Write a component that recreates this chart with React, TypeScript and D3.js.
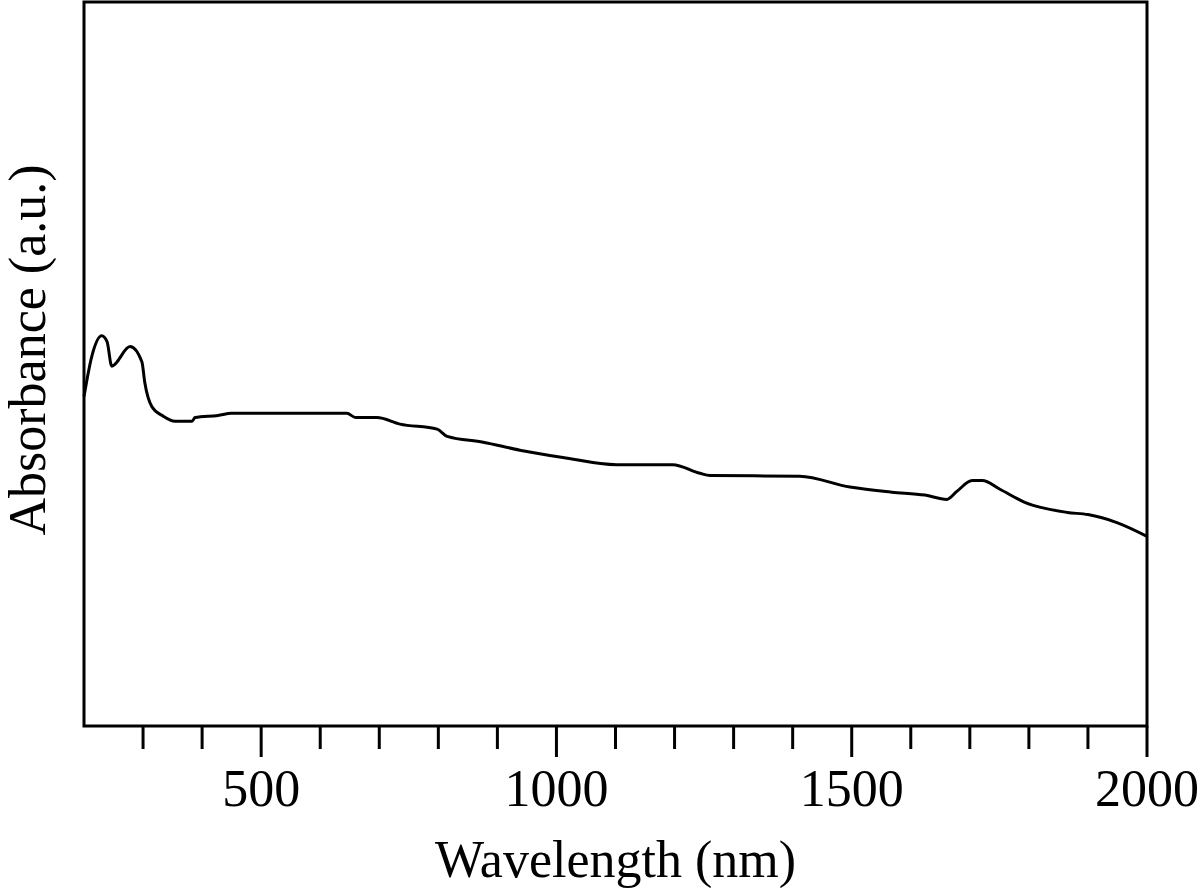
import React from 'react';
import * as d3 from 'd3';

// spectrum (absorbance in arbitrary units)
const wavelength = [200, 213, 230, 239, 247, 278, 298, 303, 315, 334, 354, 383, 388, 427, 450, 645, 660, 696, 735, 798, 815, 876, 938, 1011, 1102, 1197, 1243, 1260, 1412, 1497, 1568, 1624, 1661, 1678, 1704, 1721, 1751, 1793, 1865, 1900, 1949, 2000];
const absorbance = [0.455, 0.510, 0.539, 0.531, 0.497, 0.524, 0.503, 0.474, 0.441, 0.428, 0.421, 0.421, 0.426, 0.429, 0.432, 0.432, 0.426, 0.426, 0.417, 0.410, 0.400, 0.392, 0.381, 0.371, 0.361, 0.361, 0.349, 0.346, 0.345, 0.330, 0.323, 0.319, 0.313, 0.324, 0.339, 0.339, 0.327, 0.309, 0.295, 0.292, 0.281, 0.262];

const majorTicks = [500, 1000, 1500, 2000];
const minorTicks = d3.range(300, 2000, 100).filter(t => t % 500 !== 0);

const settings = {
  width: 1200,
  height: 893,
  left: 84,
  right: 1147,
  top: 2,
  bottom: 726,
  font: '"Liberation Serif", "Times New Roman", serif'
};

export default function App() {
  const { width, height, left, right, top, bottom, font } = settings;

  const xScale = d3.scaleLinear().domain([200, 2000]).range([left, right]);
  const yScale = d3.scaleLinear().domain([0, 1]).range([bottom, top]);

  const points = wavelength.map((w, i) => [w, absorbance[i]] as [number, number]);
  const line = d3.line<[number, number]>()
    .x(d => xScale(d[0]))
    .y(d => yScale(d[1]))
    .curve(d3.curveMonotoneX);

  return (
    <svg width={width} height={height} style={{ position: 'absolute', left: 0, top: 0, background: '#fff' }}>
      <rect x={left} y={top} width={right - left} height={bottom - top} fill="none" stroke="#000" strokeWidth={3} />
      <path d={line(points) || ''} fill="none" stroke="#000" strokeWidth={3} strokeLinejoin="round" />
      {minorTicks.map(t => (
        <line key={'m' + t} x1={xScale(t)} x2={xScale(t)} y1={bottom} y2={bottom + 23} stroke="#000" strokeWidth={3} />
      ))}
      {majorTicks.map(t => (
        <g key={'M' + t}>
          <line x1={xScale(t)} x2={xScale(t)} y1={bottom} y2={bottom + 31} stroke="#000" strokeWidth={3} />
          <text x={xScale(t)} y={806} textAnchor="middle" fontFamily={font} fontSize={52}>{t}</text>
        </g>
      ))}
      <text x={(left + right) / 2} y={877} textAnchor="middle" fontFamily={font} fontSize={52}>Wavelength (nm)</text>
      <text transform={`translate(45,350) rotate(-90)`} textAnchor="middle" fontFamily={font} fontSize={52}>Absorbance (a.u.)</text>
    </svg>
  );
}
